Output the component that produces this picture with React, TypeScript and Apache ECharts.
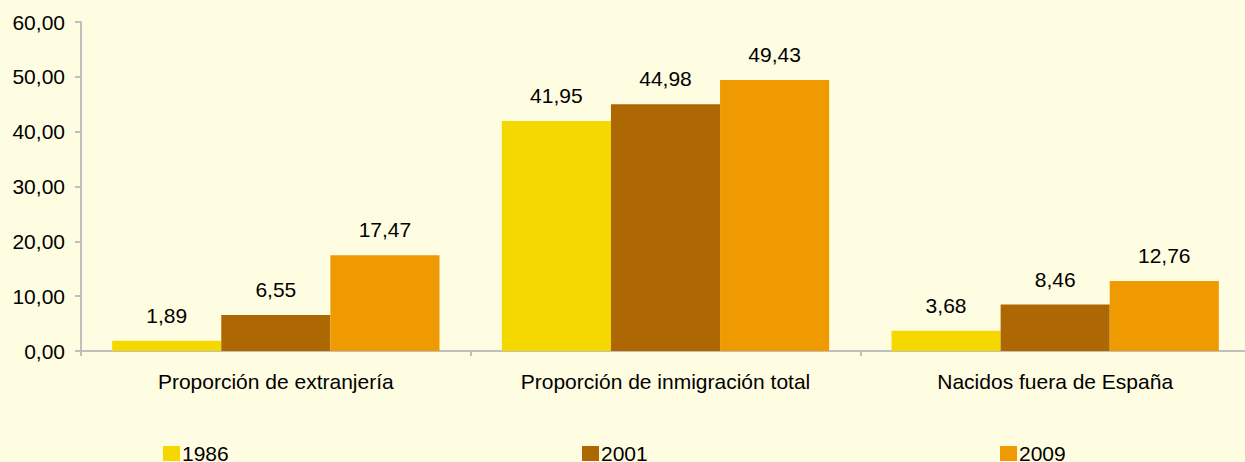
import React, { useEffect, useRef } from "react";
import * as echarts from "echarts";

const categories = ["Proporción de extranjería", "Proporción de inmigración total", "Nacidos fuera de España"];
const years = ["1986", "2001", "2009"];
const values1986 = [1.89, 41.95, 3.68];
const values2001 = [6.55, 44.98, 8.46];
const values2009 = [17.47, 49.43, 12.76];
const colors = ["#F5D800", "#AD6703", "#EE9A00"];
const legendLefts = [163, 582, 1000];

const fmt = (v: number) => v.toFixed(2).replace(".", ",");

export default function App() {
  const ref = useRef<HTMLDivElement>(null);
  useEffect(() => {
    if (!ref.current) return;
    const chart = echarts.init(ref.current, null, { renderer: "svg" });
    const seriesData = [values1986, values2001, values2009];
    const font = "'Liberation Sans', Arial, sans-serif";
    const fs = 21;
    chart.setOption({
      animation: false,
      backgroundColor: "#FFFDE1",
      textStyle: { fontFamily: font },
      grid: { left: 81, right: 0, top: 22, bottom: 111, containLabel: false },
      legend: years.map((y, i) => ({
        data: [y],
        left: legendLefts[i],
        top: 443,
        itemWidth: 17,
        itemHeight: 15,
        icon: "rect",
        padding: 0,
        textStyle: { fontSize: fs, color: "#000", fontFamily: font, padding: [0, 0, 0, -3] },
      })),
      xAxis: {
        type: "category",
        data: categories,
        axisLine: { lineStyle: { color: "#BFBFBF", width: 2 } },
        axisTick: { show: true, alignWithLabel: false, length: 5, lineStyle: { color: "#BFBFBF", width: 2 } },
        axisLabel: { fontSize: fs, color: "#000", margin: 20, fontFamily: font },
      },
      yAxis: {
        type: "value",
        min: 0,
        max: 60,
        interval: 10,
        axisLine: { show: true, lineStyle: { color: "#BFBFBF", width: 2 } },
        axisTick: { show: true, length: 6, lineStyle: { color: "#BFBFBF", width: 2 } },
        splitLine: { show: false },
        axisLabel: { fontSize: fs, color: "#000", margin: 16, fontFamily: font, formatter: (v: number) => fmt(v) },
      },
      series: years.map((y, i) => ({
        name: y,
        type: "bar",
        data: seriesData[i],
        barGap: "0%",
        barCategoryGap: "16%",
        itemStyle: { color: colors[i] },
        label: {
          show: true,
          position: "top",
          distance: 15,
          fontSize: fs,
          color: "#000",
          fontFamily: font,
          formatter: (p: any) => fmt(p.value),
        },
      })),
    });
    return () => chart.dispose();
  }, []);
  return (
    <div style={{ width: 1245, height: 462, position: "absolute", left: 0, top: 0, overflow: "hidden" }}>
      <div ref={ref} style={{ width: 1250, height: 462 }} />
    </div>
  );
}
